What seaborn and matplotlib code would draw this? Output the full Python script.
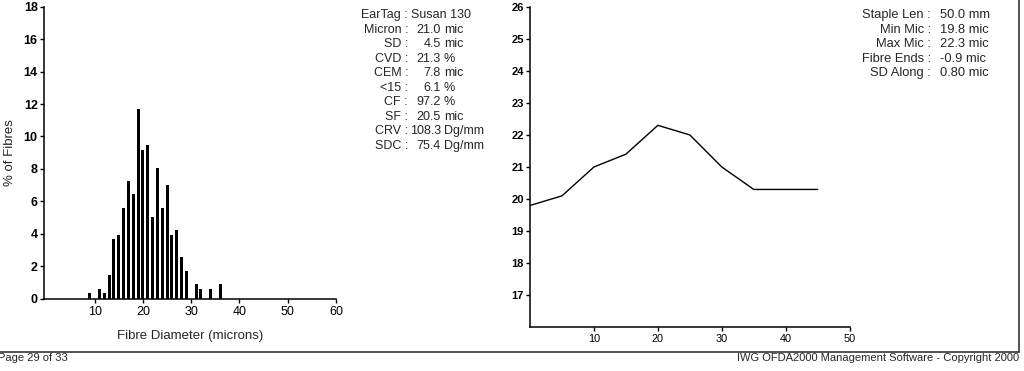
import matplotlib
matplotlib.use("Agg")
import matplotlib.pyplot as plt
import seaborn as sns
import pandas as pd

# fibre diameter histogram (% of fibres per micron class)
diameters = [9, 11, 12, 13, 14, 15, 16, 17, 18, 19, 20, 21, 22, 23, 24, 25, 26, 27, 28, 29, 31, 32, 34, 36]
pct_fibres = [0.33, 0.62, 0.33, 1.44, 3.66, 3.92, 5.57, 7.27, 6.43, 11.69, 9.18, 9.45, 5.03, 8.07,
              5.57, 6.98, 3.92, 4.21, 2.55, 1.71, 0.88, 0.62, 0.62, 0.88]

# diameter along the staple
staple_pos = [0, 5, 10, 15, 20, 25, 30, 35, 40, 45]
micron_along = [19.8, 20.1, 21.0, 21.4, 22.3, 22.0, 21.0, 20.3, 20.3, 20.3]

# summary stats
stat_labels = ["EarTag :", "Micron :", "SD :", "CVD :", "CEM :", "<15 :", "CF :", "SF :", "CRV :", "SDC :"]
stat_values = ["", "21.0", "4.5", "21.3", "7.8", "6.1", "97.2", "20.5", "108.3", "75.4"]
stat_units = ["", "mic", "mic", "%", "mic", "%", "%", "mic", "Dg/mm", "Dg/mm"]
ear_tag = "Susan 130"

staple_labels = ["Staple Len :", "Min Mic :", "Max Mic :", "Fibre Ends :", "SD Along :"]
staple_values = ["50.0 mm", "19.8 mic", "22.3 mic", "-0.9 mic", "0.80 mic"]

sns.set_style("ticks")
plt.rcParams["font.family"] = ["Liberation Sans", "DejaVu Sans"]

W, H = 1024, 371
fig = plt.figure(figsize=(W / 100, H / 100), dpi=100)


def fx(px):
    return px / W


def fy(py):
    return 1 - py / H


# left: histogram
ax1 = fig.add_axes([fx(44), fy(298.7), fx(336 - 44), (298.7 - 6.7) / H])
hist_df = pd.DataFrame({"diam": diameters, "pct": pct_fibres})
sns.barplot(data=hist_df, x="diam", y="pct", native_scale=True, color="black",
            width=0.62, saturation=1, edgecolor="black", linewidth=0, ax=ax1)
ax1.set_xlim(-0.5, 60)
ax1.set_ylim(0, 18)
ax1.set_xticks([10, 20, 30, 40, 50, 60])
ax1.set_yticks(range(0, 19, 2))
ax1.set_xlabel("Fibre Diameter (microns)", fontsize=9.5, labelpad=9)
ax1.set_ylabel("% of Fibres", fontsize=9.5)
ax1.yaxis.set_label_coords((16 - 44) / 292, 0.5)
ax1.tick_params(axis="x", labelsize=9, length=3, width=1, pad=2, colors="black")
ax1.tick_params(axis="y", labelsize=9, length=3, width=1, pad=1.5, colors="black")
for lab in ax1.get_yticklabels():
    lab.set_fontweight("bold")
sns.despine(ax=ax1)
for s in ax1.spines.values():
    s.set_color("black")
    s.set_linewidth(1.1)

# right: micron along staple
ax2 = fig.add_axes([fx(530), fy(327.3), fx(849.7 - 530), (327.3 - 6.7) / H])
prof_df = pd.DataFrame({"pos": staple_pos, "mic": micron_along})
sns.lineplot(data=prof_df, x="pos", y="mic", color="black", linewidth=1, ax=ax2)
ax2.set_xlim(0, 50)
ax2.set_ylim(16, 26)
ax2.set_xticks([10, 20, 30, 40, 50])
ax2.set_yticks(range(17, 27))
ax2.set_xlabel("")
ax2.set_ylabel("")
ax2.tick_params(axis="x", labelsize=7.8, length=3, width=1, pad=2, colors="black")
ax2.tick_params(axis="y", labelsize=8, length=3, width=1, pad=1.5, colors="black")
for lab in ax2.get_yticklabels():
    lab.set_fontweight("bold")
sns.despine(ax=ax2)
for s in ax2.spines.values():
    s.set_color("black")
    s.set_linewidth(1.1)

# stats text block
fs = 9
for i, (lab, val, unit) in enumerate(zip(stat_labels, stat_values, stat_units)):
    y = fy(15 + i * 14.55)
    fig.text(fx(408), y, lab, ha="right", va="center", fontsize=fs)
    if i == 0:
        fig.text(fx(411), y, ear_tag, ha="left", va="center", fontsize=fs)
    else:
        fig.text(fx(441), y, val, ha="right", va="center", fontsize=fs)
        fig.text(fx(444), y, unit, ha="left", va="center", fontsize=fs)

for i, (lab, val) in enumerate(zip(staple_labels, staple_values)):
    y = fy(15 + i * 14.6)
    fig.text(fx(931), y, lab, ha="right", va="center", fontsize=9.3)
    fig.text(fx(940), y, val, ha="left", va="center", fontsize=9.3)

# page frame and footer
fig.add_artist(plt.Line2D([0, fx(1019)], [fy(352), fy(352)], color="#444444", lw=1.3))
fig.add_artist(plt.Line2D([fx(1019), fx(1019)], [fy(352), 1], color="#444444", lw=1.3))
fig.text(fx(-2), fy(358), "Page 29 of 33", ha="left", va="center", fontsize=8)
fig.text(fx(1019), fy(358), "IWG OFDA2000 Management Software - Copyright 2000",
         ha="right", va="center", fontsize=8)

fig.savefig("out.png", dpi=100)
